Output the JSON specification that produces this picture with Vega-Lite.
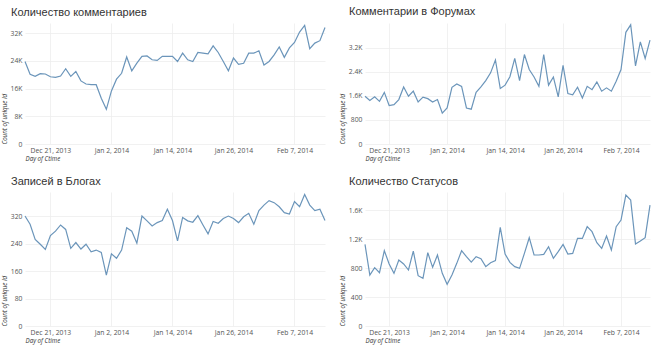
{
  "$schema": "https://vega.github.io/schema/vega-lite/v6.json",
  "background": "white",
  "padding": {"left": 1, "top": 6, "right": 5, "bottom": 5},
  "bounds": "flush",
  "columns": 2,
  "spacing": {"row": 48, "column": 40},
  "datasets": {
    "p1": [
      {"date":"2013-12-16","count":23800},{"date":"2013-12-17","count":20100},{"date":"2013-12-18","count":19500},{"date":"2013-12-19","count":20300},{"date":"2013-12-20","count":20200},{"date":"2013-12-21","count":19400},{"date":"2013-12-22","count":19200},{"date":"2013-12-23","count":19600},{"date":"2013-12-24","count":21700},{"date":"2013-12-25","count":19500},{"date":"2013-12-26","count":20900},{"date":"2013-12-27","count":18200},{"date":"2013-12-28","count":17300},{"date":"2013-12-29","count":17100},{"date":"2013-12-30","count":17100},{"date":"2013-12-31","count":13200},
      {"date":"2014-01-01","count":10000},{"date":"2014-01-02","count":15300},{"date":"2014-01-03","count":18700},{"date":"2014-01-04","count":20400},{"date":"2014-01-05","count":25100},{"date":"2014-01-06","count":21100},{"date":"2014-01-07","count":23300},{"date":"2014-01-08","count":25300},{"date":"2014-01-09","count":25400},{"date":"2014-01-10","count":24300},{"date":"2014-01-11","count":24100},{"date":"2014-01-12","count":25300},{"date":"2014-01-13","count":25300},{"date":"2014-01-14","count":25300},{"date":"2014-01-15","count":23800},{"date":"2014-01-16","count":26200},{"date":"2014-01-17","count":24300},{"date":"2014-01-18","count":23800},{"date":"2014-01-19","count":26400},{"date":"2014-01-20","count":26200},{"date":"2014-01-21","count":26000},{"date":"2014-01-22","count":28300},{"date":"2014-01-23","count":26400},{"date":"2014-01-24","count":23800},{"date":"2014-01-25","count":21100},{"date":"2014-01-26","count":24800},{"date":"2014-01-27","count":23000},{"date":"2014-01-28","count":23300},{"date":"2014-01-29","count":26200},{"date":"2014-01-30","count":26200},{"date":"2014-01-31","count":26900},
      {"date":"2014-02-01","count":22800},{"date":"2014-02-02","count":23800},{"date":"2014-02-03","count":25700},{"date":"2014-02-04","count":28000},{"date":"2014-02-05","count":25000},{"date":"2014-02-06","count":27700},{"date":"2014-02-07","count":29300},{"date":"2014-02-08","count":32300},{"date":"2014-02-09","count":34200},{"date":"2014-02-10","count":27500},{"date":"2014-02-11","count":29100},{"date":"2014-02-12","count":29800},{"date":"2014-02-13","count":33600}
    ],
    "p2": [
      {"date":"2013-12-16","count":1590},{"date":"2013-12-17","count":1450},{"date":"2013-12-18","count":1570},{"date":"2013-12-19","count":1420},{"date":"2013-12-20","count":1720},{"date":"2013-12-21","count":1280},{"date":"2013-12-22","count":1310},{"date":"2013-12-23","count":1480},{"date":"2013-12-24","count":1900},{"date":"2013-12-25","count":1590},{"date":"2013-12-26","count":1760},{"date":"2013-12-27","count":1400},{"date":"2013-12-28","count":1560},{"date":"2013-12-29","count":1510},{"date":"2013-12-30","count":1400},{"date":"2013-12-31","count":1480},
      {"date":"2014-01-01","count":1030},{"date":"2014-01-02","count":1200},{"date":"2014-01-03","count":1890},{"date":"2014-01-04","count":2000},{"date":"2014-01-05","count":1920},{"date":"2014-01-06","count":1200},{"date":"2014-01-07","count":1160},{"date":"2014-01-08","count":1720},{"date":"2014-01-09","count":1900},{"date":"2014-01-10","count":2110},{"date":"2014-01-11","count":2370},{"date":"2014-01-12","count":2800},{"date":"2014-01-13","count":1850},{"date":"2014-01-14","count":1960},{"date":"2014-01-15","count":2240},{"date":"2014-01-16","count":2850},{"date":"2014-01-17","count":2110},{"date":"2014-01-18","count":2980},{"date":"2014-01-19","count":2480},{"date":"2014-01-20","count":2230},{"date":"2014-01-21","count":1920},{"date":"2014-01-22","count":2980},{"date":"2014-01-23","count":1960},{"date":"2014-01-24","count":2230},{"date":"2014-01-25","count":1570},{"date":"2014-01-26","count":2620},{"date":"2014-01-27","count":1680},{"date":"2014-01-28","count":1640},{"date":"2014-01-29","count":1890},{"date":"2014-01-30","count":1530},{"date":"2014-01-31","count":1920},
      {"date":"2014-02-01","count":1810},{"date":"2014-02-02","count":2070},{"date":"2014-02-03","count":1760},{"date":"2014-02-04","count":1870},{"date":"2014-02-05","count":1760},{"date":"2014-02-06","count":2090},{"date":"2014-02-07","count":2480},{"date":"2014-02-08","count":3720},{"date":"2014-02-09","count":3970},{"date":"2014-02-10","count":2600},{"date":"2014-02-11","count":3400},{"date":"2014-02-12","count":2850},{"date":"2014-02-13","count":3460}
    ],
    "p3": [
      {"date":"2013-12-16","count":320},{"date":"2013-12-17","count":296},{"date":"2013-12-18","count":252},{"date":"2013-12-19","count":238},{"date":"2013-12-20","count":223},{"date":"2013-12-21","count":263},{"date":"2013-12-22","count":276},{"date":"2013-12-23","count":294},{"date":"2013-12-24","count":281},{"date":"2013-12-25","count":226},{"date":"2013-12-26","count":243},{"date":"2013-12-27","count":224},{"date":"2013-12-28","count":238},{"date":"2013-12-29","count":216},{"date":"2013-12-30","count":221},{"date":"2013-12-31","count":214},
      {"date":"2014-01-01","count":148},{"date":"2014-01-02","count":210},{"date":"2014-01-03","count":197},{"date":"2014-01-04","count":221},{"date":"2014-01-05","count":286},{"date":"2014-01-06","count":276},{"date":"2014-01-07","count":241},{"date":"2014-01-08","count":320},{"date":"2014-01-09","count":306},{"date":"2014-01-10","count":291},{"date":"2014-01-11","count":301},{"date":"2014-01-12","count":307},{"date":"2014-01-13","count":340},{"date":"2014-01-14","count":307},{"date":"2014-01-15","count":248},{"date":"2014-01-16","count":316},{"date":"2014-01-17","count":306},{"date":"2014-01-18","count":302},{"date":"2014-01-19","count":321},{"date":"2014-01-20","count":294},{"date":"2014-01-21","count":268},{"date":"2014-01-22","count":304},{"date":"2014-01-23","count":299},{"date":"2014-01-24","count":313},{"date":"2014-01-25","count":320},{"date":"2014-01-26","count":313},{"date":"2014-01-27","count":301},{"date":"2014-01-28","count":318},{"date":"2014-01-29","count":328},{"date":"2014-01-30","count":296},{"date":"2014-01-31","count":336},
      {"date":"2014-02-01","count":352},{"date":"2014-02-02","count":365},{"date":"2014-02-03","count":359},{"date":"2014-02-04","count":347},{"date":"2014-02-05","count":330},{"date":"2014-02-06","count":326},{"date":"2014-02-07","count":362},{"date":"2014-02-08","count":347},{"date":"2014-02-09","count":383},{"date":"2014-02-10","count":352},{"date":"2014-02-11","count":336},{"date":"2014-02-12","count":340},{"date":"2014-02-13","count":307}
    ],
    "p4": [
      {"date":"2013-12-16","count":1127},{"date":"2013-12-17","count":704},{"date":"2013-12-18","count":805},{"date":"2013-12-19","count":736},{"date":"2013-12-20","count":1040},{"date":"2013-12-21","count":856},{"date":"2013-12-22","count":727},{"date":"2013-12-23","count":911},{"date":"2013-12-24","count":856},{"date":"2013-12-25","count":773},{"date":"2013-12-26","count":1035},{"date":"2013-12-27","count":695},{"date":"2013-12-28","count":658},{"date":"2013-12-29","count":1012},{"date":"2013-12-30","count":810},{"date":"2013-12-31","count":980},
      {"date":"2014-01-01","count":727},{"date":"2014-01-02","count":575},{"date":"2014-01-03","count":704},{"date":"2014-01-04","count":865},{"date":"2014-01-05","count":1040},{"date":"2014-01-06","count":957},{"date":"2014-01-07","count":883},{"date":"2014-01-08","count":957},{"date":"2014-01-09","count":929},{"date":"2014-01-10","count":819},{"date":"2014-01-11","count":874},{"date":"2014-01-12","count":902},{"date":"2014-01-13","count":1362},{"date":"2014-01-14","count":994},{"date":"2014-01-15","count":879},{"date":"2014-01-16","count":819},{"date":"2014-01-17","count":796},{"date":"2014-01-18","count":1003},{"date":"2014-01-19","count":1219},{"date":"2014-01-20","count":980},{"date":"2014-01-21","count":980},{"date":"2014-01-22","count":989},{"date":"2014-01-23","count":1095},{"date":"2014-01-24","count":934},{"date":"2014-01-25","count":1026},{"date":"2014-01-26","count":1127},{"date":"2014-01-27","count":994},{"date":"2014-01-28","count":1003},{"date":"2014-01-29","count":1210},{"date":"2014-01-30","count":1210},{"date":"2014-01-31","count":1371},
      {"date":"2014-02-01","count":1302},{"date":"2014-02-02","count":1150},{"date":"2014-02-03","count":1072},{"date":"2014-02-04","count":1242},{"date":"2014-02-05","count":1049},{"date":"2014-02-06","count":1371},{"date":"2014-02-07","count":1463},{"date":"2014-02-08","count":1808},{"date":"2014-02-09","count":1739},{"date":"2014-02-10","count":1132},{"date":"2014-02-11","count":1173},{"date":"2014-02-12","count":1219},{"date":"2014-02-13","count":1670}
    ]
  },
  "concat": [
    {
      "title": {"text": "Количество комментариев", "dx": -14},
      "width": 300, "height": 121,
      "data": {"name": "p1"},
      "mark": {"type": "line"},
      "encoding": {
        "x": {"field": "date", "type": "temporal", "title": "Day of Ctime",
          "scale": {"type": "utc", "domain": [{"year": 2013, "month": 12, "date": 16, "utc": true}, {"year": 2014, "month": 2, "date": 13, "utc": true}]},
          "axis": {"values": [{"year": 2013, "month": 12, "date": 21, "utc": true}, {"year": 2014, "month": 1, "date": 2, "utc": true}, {"year": 2014, "month": 1, "date": 14, "utc": true}, {"year": 2014, "month": 1, "date": 26, "utc": true}, {"year": 2014, "month": 2, "date": 7, "utc": true}]}},
        "y": {"field": "count", "type": "quantitative", "title": "Count of unique Id",
          "scale": {"domain": [0, 34900], "nice": false},
          "axis": {"values": [0, 8000, 16000, 24000, 32000]}}
      }
    },
    {
      "title": {"text": "Комментарии в Форумах", "dx": -16},
      "width": 285, "height": 121,
      "data": {"name": "p2"},
      "mark": {"type": "line"},
      "encoding": {
        "x": {"field": "date", "type": "temporal", "title": "Day of Ctime",
          "scale": {"type": "utc", "domain": [{"year": 2013, "month": 12, "date": 16, "utc": true}, {"year": 2014, "month": 2, "date": 13, "utc": true}]},
          "axis": {"values": [{"year": 2013, "month": 12, "date": 21, "utc": true}, {"year": 2014, "month": 1, "date": 2, "utc": true}, {"year": 2014, "month": 1, "date": 14, "utc": true}, {"year": 2014, "month": 1, "date": 26, "utc": true}, {"year": 2014, "month": 2, "date": 7, "utc": true}]}},
        "y": {"field": "count", "type": "quantitative", "title": "Count of unique Id",
          "scale": {"domain": [0, 4030], "nice": false},
          "axis": {"values": [0, 800, 1600, 2400, 3200]}}
      }
    },
    {
      "title": {"text": "Записей в Блогах", "dx": -14},
      "width": 300, "height": 134,
      "data": {"name": "p3"},
      "mark": {"type": "line"},
      "encoding": {
        "x": {"field": "date", "type": "temporal", "title": "Day of Ctime",
          "scale": {"type": "utc", "domain": [{"year": 2013, "month": 12, "date": 16, "utc": true}, {"year": 2014, "month": 2, "date": 13, "utc": true}]},
          "axis": {"values": [{"year": 2013, "month": 12, "date": 21, "utc": true}, {"year": 2014, "month": 1, "date": 2, "utc": true}, {"year": 2014, "month": 1, "date": 14, "utc": true}, {"year": 2014, "month": 1, "date": 26, "utc": true}, {"year": 2014, "month": 2, "date": 7, "utc": true}]}},
        "y": {"field": "count", "type": "quantitative", "title": "Count of unique Id",
          "scale": {"domain": [0, 390], "nice": false},
          "axis": {"values": [0, 80, 160, 240, 320]}}
      }
    },
    {
      "title": {"text": "Количество Статусов", "dx": -16},
      "width": 285, "height": 134,
      "data": {"name": "p4"},
      "mark": {"type": "line"},
      "encoding": {
        "x": {"field": "date", "type": "temporal", "title": "Day of Ctime",
          "scale": {"type": "utc", "domain": [{"year": 2013, "month": 12, "date": 16, "utc": true}, {"year": 2014, "month": 2, "date": 13, "utc": true}]},
          "axis": {"values": [{"year": 2013, "month": 12, "date": 21, "utc": true}, {"year": 2014, "month": 1, "date": 2, "utc": true}, {"year": 2014, "month": 1, "date": 14, "utc": true}, {"year": 2014, "month": 1, "date": 26, "utc": true}, {"year": 2014, "month": 2, "date": 7, "utc": true}]}},
        "y": {"field": "count", "type": "quantitative", "title": "Count of unique Id",
          "scale": {"domain": [0, 1850], "nice": false},
          "axis": {"values": [0, 400, 800, 1200, 1600]}}
      }
    }
  ],
  "config": {
    "view": {"stroke": null},
    "line": {"color": "#6b95ba", "strokeWidth": 1.2},
    "axis": {
      "labelFont": "Open Sans", "labelFontSize": 6.8, "labelColor": "#555555",
      "titleFont": "Open Sans", "titleFontSize": 6.2, "titleFontStyle": "italic", "titleFontWeight": "normal", "titleColor": "#333333",
      "domain": false, "ticks": false, "gridColor": "#eeeeee", "gridWidth": 0.8
    },
    "axisX": {"labelPadding": 3, "titleAnchor": "start", "titleAlign": "left", "titlePadding": 2, "labelFlush": false,
      "labelExpr": "utcFormat(datum.value, '%b %-d, %Y')"},
    "axisY": {"labelPadding": 3, "titleAnchor": "start", "titleAlign": "left", "titlePadding": 3,
      "labelExpr": "datum.value >= 1000 ? format(datum.value / 1000, '~g') + 'K' : format(datum.value, 'd')"},
    "title": {"font": "Liberation Sans", "fontSize": 11, "fontWeight": "normal", "color": "#333333", "anchor": "start", "frame": "group", "offset": 5}
  }
}
